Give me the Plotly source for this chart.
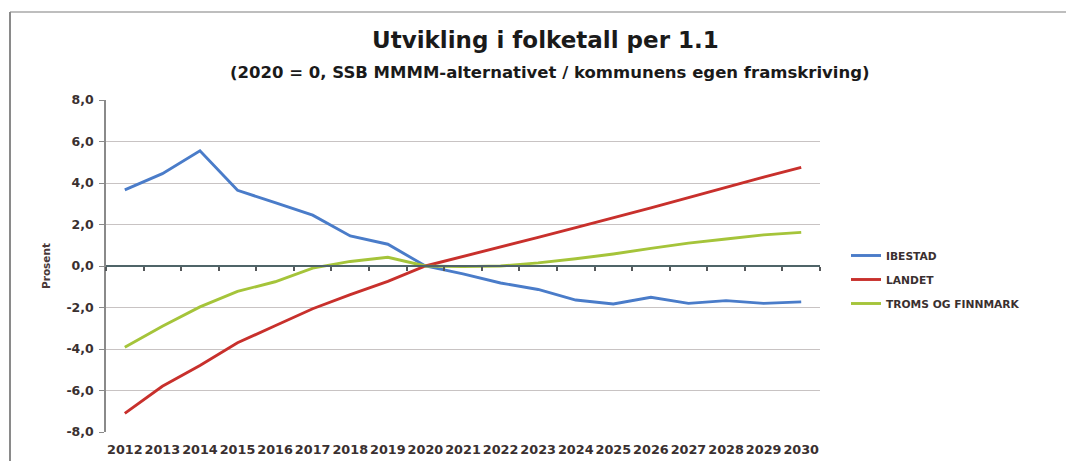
import plotly.graph_objects as go

years = [str(y) for y in range(2012, 2031)]
ibestad = [3.67, 4.45, 5.55, 3.65, 3.05, 2.45, 1.45, 1.05, 0.0,
           -0.38, -0.82, -1.13, -1.64, -1.83, -1.51, -1.80, -1.67, -1.80, -1.73]
landet = [-7.1, -5.8, -4.8, -3.7, -2.88, -2.06, -1.38, -0.74, 0.0,
          0.45, 0.9, 1.38, 1.85, 2.32, 2.8, 3.3, 3.8, 4.28, 4.75]
troms = [-3.92, -2.9, -1.97, -1.22, -0.76, -0.1, 0.22, 0.42, 0.0,
         -0.03, 0.0, 0.15, 0.35, 0.58, 0.85, 1.1, 1.3, 1.5, 1.62]
y_ticks = [-8, -6, -4, -2, 0, 2, 4, 6, 8]
y_tick_labels = [f"{v:.1f}".replace(".", ",") for v in y_ticks]

series_names = ["IBESTAD", "LANDET", "TROMS OG FINNMARK"]
series_colors = ["#4a7cc9", "#c8302c", "#a5c43a"]
series_values = [ibestad, landet, troms]

W, H = 1066, 461
L, R, T, B = 106, 820, 100, 432
pw, ph = R - L, B - T

fig = go.Figure()
for i, (name, vals, col) in enumerate(zip(series_names, series_values, series_colors)):
    fig.add_trace(go.Scatter(x=years, y=vals, mode="lines", name=name,
                             line=dict(color=col, width=2.9),
                             legendgroup=f"g{i}"))

# invisible trace on second x axis to draw zero-line axis with ticks
fig.add_trace(go.Scatter(x=years, y=[0]*len(years), xaxis="x2", mode="lines",
                         line=dict(width=0), showlegend=False, hoverinfo="skip"))

fnt = "DejaVu Sans"
xr = [-0.5, len(years) - 0.5]
fig.update_layout(
    width=W, height=H,
    margin=dict(l=L, r=W - R, t=T, b=H - B, pad=0),
    paper_bgcolor="white", plot_bgcolor="white",
    font=dict(family=fnt, color="#3a3030"),
    showlegend=True,
    legend=dict(x=(846 - L) / pw, y=(B - 241) / ph, xanchor="left", yanchor="top",
                font=dict(family=fnt, size=10.7, color="#3a3030", weight="bold"),
                tracegroupgap=5, bgcolor="rgba(0,0,0,0)"),
    xaxis=dict(type="category", range=xr, showgrid=False, showline=False, ticks="",
               tickangle=0,
               tickfont=dict(family=fnt, size=12.8, weight="bold", color="#3a3030"),
               ticklabelstandoff=8, zeroline=False, automargin=False),
    xaxis2=dict(type="category", overlaying="x", anchor="free", position=0.5,
                range=xr, showline=True, linecolor="#4f6468", linewidth=2.2,
                ticks="outside", ticklen=4, tickwidth=2, tickcolor="#55585a",
                tickson="boundaries", showticklabels=False, showgrid=False,
                side="bottom", automargin=False),
    yaxis=dict(range=[-8, 8], tickvals=y_ticks, ticktext=y_tick_labels, showgrid=True,
               gridcolor="#c8c3c3", gridwidth=1.4, zeroline=False,
               showline=True, linecolor="#8a8a8a", linewidth=1.5,
               ticks="outside", ticklen=5, tickcolor="#8a8a8a", ticklabelstandoff=3,
               automargin=False,
               tickfont=dict(family=fnt, size=12.5, weight="bold", color="#3a3030"),
               title=dict(text="Prosent", standoff=14,
                          font=dict(family=fnt, size=10.5, weight="bold", color="#4a3838"))),
    annotations=[
        dict(text="Utvikling i folketall per 1.1", xref="paper", yref="paper",
             x=(545 - L) / pw, y=(B - 40) / ph, xanchor="center", yanchor="middle",
             showarrow=False, font=dict(family=fnt, size=23, weight="bold", color="#1a1a1a")),
        dict(text="(2020 = 0, SSB MMMM-alternativet / kommunens egen framskriving)",
             xref="paper", yref="paper", x=(550 - L) / pw, y=(B - 72) / ph,
             xanchor="center", yanchor="middle", showarrow=False,
             font=dict(family=fnt, size=16.5, weight="bold", color="#1a1a1a")),
    ],
    shapes=[
        dict(type="line", xref="paper", yref="paper",
             x0=(10 - L) / pw, x1=(W - L) / pw, y0=(B - 12) / ph, y1=(B - 12) / ph,
             line=dict(color="#a8a8a8", width=1.5)),
        dict(type="line", xref="paper", yref="paper",
             x0=(10 - L) / pw, x1=(10 - L) / pw, y0=(B - H) / ph, y1=(B - 12) / ph,
             line=dict(color="#8a8a8a", width=2)),
    ],
)

fig.write_html("out.html", config={"displayModeBar": False},
               post_script="document.body.style.margin='0px';")
